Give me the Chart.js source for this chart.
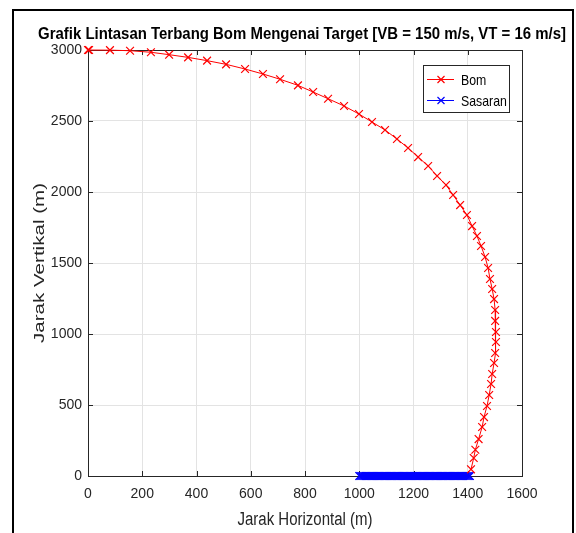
<!DOCTYPE html>
<html><head><meta charset="utf-8">
<script src="https://cdn.jsdelivr.net/npm/chart.js@4/dist/chart.umd.min.js"></script>
<style>
html,body{margin:0;padding:0;background:#fff;}
#wrap{position:relative;width:576px;height:533px;overflow:hidden;}
canvas{position:absolute;left:0;top:0;}
#frame{position:absolute;left:12px;top:9px;width:562px;height:540px;border:2px solid #000;box-sizing:border-box;pointer-events:none;}
</style></head><body>
<div id="wrap"><canvas id="c" width="576" height="533"></canvas><div id="frame"></div></div>
<script>
const chartTitle = 'Grafik Lintasan Terbang Bom Mengenai Target [VB = 150 m/s, VT = 16 m/s]';
const xAxisTitle = 'Jarak Horizontal (m)';
const yAxisTitle = 'Jarak Vertikal (m)';
const seriesNames = ['Bom', 'Sasaran'];
const seriesColors = ['#ff0000', '#0000ff'];
const xTicks = [0, 200, 400, 600, 800, 1000, 1200, 1400, 1600];
const yTicks = [0, 500, 1000, 1500, 2000, 2500, 3000];

const bomX = [0, 4, 81, 155, 232, 299, 369, 439, 509, 579, 645, 708, 774, 830, 885, 944, 999, 1047, 1095, 1139, 1180, 1217, 1254, 1287, 1320, 1346, 1372, 1397, 1416, 1434, 1449, 1464, 1475, 1482, 1490, 1497, 1501, 1501, 1504, 1504, 1501, 1497, 1490, 1486, 1479, 1471, 1460, 1453, 1440, 1428, 1422, 1412];
const bomY = [3000, 3000, 2999, 2995, 2984, 2967, 2948, 2925, 2899, 2866, 2831, 2794, 2751, 2704, 2657, 2606, 2549, 2493, 2437, 2373, 2310, 2246, 2183, 2113, 2049, 1979, 1908, 1838, 1760, 1690, 1620, 1542, 1465, 1387, 1317, 1246, 1169, 1092, 1014, 944, 866, 796, 718, 648, 570, 493, 415, 345, 260, 185, 127, 47];

const sasaranX = [1000, 1004, 1008, 1012, 1016, 1020, 1024, 1028, 1032, 1036, 1040, 1044, 1048, 1052, 1056, 1060, 1064, 1068, 1072, 1076, 1080, 1084, 1088, 1092, 1096, 1100, 1104, 1108, 1112, 1116, 1120, 1124, 1128, 1132, 1136, 1140, 1144, 1148, 1152, 1156, 1160, 1164, 1168, 1172, 1176, 1180, 1184, 1188, 1192, 1196, 1200, 1204, 1208, 1212, 1216, 1220, 1224, 1228, 1232, 1236, 1240, 1244, 1248, 1252, 1256, 1260, 1264, 1268, 1272, 1276, 1280, 1284, 1288, 1292, 1296, 1300, 1304, 1308, 1312, 1316, 1320, 1324, 1328, 1332, 1336, 1340, 1344, 1348, 1352, 1356, 1360, 1364, 1368, 1372, 1376, 1380, 1384, 1388, 1392, 1396, 1400, 1404, 1408];
const sasaranY = sasaranX.map(() => 0);

const FONT = '"Liberation Sans", Arial, Helvetica, sans-serif';
const AX = '#262626';

function pts(xs, ys) { return xs.map((x, i) => ({x: x, y: ys[i]})); }

function squeezedText(ctx, text, cx, cy, font, targetW, align) {
  ctx.save();
  ctx.font = font;
  const w = ctx.measureText(text).width;
  const k = targetW ? targetW / w : 0.82;
  ctx.translate(cx, cy);
  ctx.scale(k, 1);
  ctx.textAlign = align || 'center';
  ctx.fillText(text, 0, 0);
  ctx.restore();
}

const frameTicks = {
  id: 'frameTicks',
  beforeDatasetsDraw(chart) {
    const {ctx, chartArea: a, scales} = chart;
    ctx.save();
    ctx.strokeStyle = AX;
    ctx.lineWidth = 1;
    ctx.beginPath();
    const L = 5;
    scales.x.ticks.forEach(t => {
      const px = Math.round(scales.x.getPixelForValue(t.value)) + 0.5;
      ctx.moveTo(px, a.bottom); ctx.lineTo(px, a.bottom - L);
      ctx.moveTo(px, a.top); ctx.lineTo(px, a.top + L);
    });
    scales.y.ticks.forEach(t => {
      const py = Math.round(scales.y.getPixelForValue(t.value)) + 0.5;
      ctx.moveTo(a.left, py); ctx.lineTo(a.left + L, py);
      ctx.moveTo(a.right, py); ctx.lineTo(a.right - L, py);
    });
    ctx.stroke();
    ctx.strokeRect(Math.round(a.left) + 0.5, Math.round(a.top) + 0.5, Math.round(a.right - a.left), Math.round(a.bottom - a.top));
    ctx.restore();
  },
  afterDraw(chart) {
    const {ctx, chartArea: a} = chart;
    ctx.save();
    ctx.textBaseline = 'alphabetic';
    ctx.fillStyle = '#000';
    squeezedText(ctx, chartTitle, 302, 39, 'bold 16px ' + FONT, 528);
    ctx.fillStyle = AX;
    ctx.textBaseline = 'middle';
    squeezedText(ctx, xAxisTitle, (a.left + a.right) / 2, 520, '18px ' + FONT, 135);
    ctx.save();
    ctx.font = '19px ' + FONT;
    const wy = ctx.measureText(yAxisTitle).width;
    ctx.translate(40, (a.top + a.bottom) / 2);
    ctx.rotate(-Math.PI / 2);
    ctx.scale(160 / wy, 0.74);
    ctx.textAlign = 'center';
    ctx.fillText(yAxisTitle, 0, 0);
    ctx.restore();
    const bx = 423.5, by = 65.5, bw = 86, bh = 47;
    ctx.fillStyle = '#fff';
    ctx.fillRect(bx, by, bw, bh);
    ctx.strokeStyle = AX;
    ctx.lineWidth = 1;
    ctx.strokeRect(bx, by, bw, bh);
    const rows = [79, 100];
    chart.data.datasets.forEach((ds, i) => {
      const y = rows[i] + 0.5;
      ctx.strokeStyle = seriesColors[i];
      ctx.lineWidth = 1;
      ctx.beginPath();
      ctx.moveTo(427, y); ctx.lineTo(454, y);
      ctx.stroke();
      ctx.lineWidth = 1.2;
      ctx.beginPath();
      const cx = 441, r = 3.5;
      ctx.moveTo(cx - r, y - r); ctx.lineTo(cx + r, y + r);
      ctx.moveTo(cx + r, y - r); ctx.lineTo(cx - r, y + r);
      ctx.stroke();
      ctx.fillStyle = '#000';
      ctx.textBaseline = 'middle';
      squeezedText(ctx, ds.label, 461, y + 1, '15px ' + FONT, 0, 'left');
    });
    ctx.restore();
  }
};

new Chart(document.getElementById('c'), {
  type: 'scatter',
  data: {
    datasets: [
      {label: seriesNames[0], data: pts(bomX, bomY), showLine: true, borderColor: seriesColors[0], backgroundColor: seriesColors[0], borderWidth: 1, pointStyle: 'crossRot', pointRadius: 5.5, pointBorderWidth: 1.2, clip: false},
      {label: seriesNames[1], data: pts(sasaranX, sasaranY), showLine: true, borderColor: seriesColors[1], backgroundColor: seriesColors[1], borderWidth: 1, pointStyle: 'crossRot', pointRadius: 5.5, pointBorderWidth: 1.2, clip: false}
    ]
  },
  options: {
    responsive: false,
    animation: false,
    devicePixelRatio: 1,
    layout: {padding: {top: 50, right: 54, left: 0, bottom: 0}},
    plugins: {legend: {display: false}, title: {display: false}, tooltip: {enabled: false}},
    scales: {
      x: {
        type: 'linear', min: 0, max: 1600,
        afterBuildTicks: s => { s.ticks = xTicks.map(v => ({value: v})); },
        afterFit: s => { s.height = 57; },
        grid: {color: '#e3e3e3', drawTicks: false},
        border: {display: false},
        ticks: {padding: 10, color: AX, font: {size: 14, family: FONT}, maxRotation: 0, autoSkip: false, callback: v => String(v)},
        title: {display: false}
      },
      y: {
        type: 'linear', min: 0, max: 3000,
        afterBuildTicks: s => { s.ticks = yTicks.map(v => ({value: v})); },
        afterFit: s => { s.width = 88; },
        grid: {color: '#e3e3e3', drawTicks: false},
        border: {display: false},
        ticks: {padding: 6, color: AX, font: {size: 14, family: FONT}, autoSkip: false, callback: v => String(v)},
        title: {display: false}
      }
    }
  },
  plugins: [frameTicks]
});
</script>
</body></html>
